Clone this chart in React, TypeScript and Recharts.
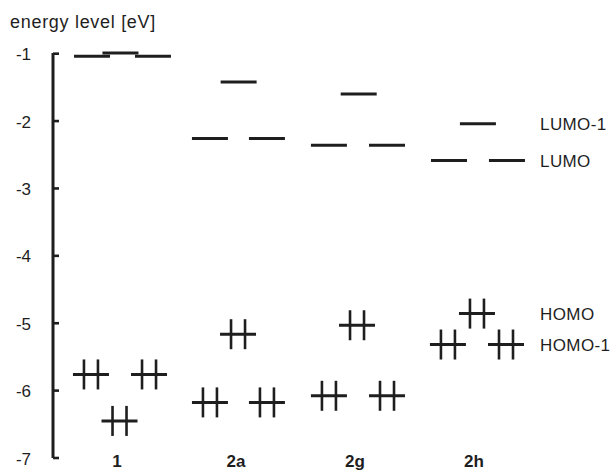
import React from "react";
import { ScatterChart, Scatter, XAxis, YAxis } from "recharts";

// Category (molecule) labels, placed at x = 1..4
const groupLabels = ["1", "2a", "2g", "2h"];
const groupTicks = [1, 2, 3, 4];

// Unoccupied levels (LUMO, LUMO-1 ...)
const unoccupiedX = [0.765, 1.004, 1.277, 1.756, 1.997, 2.235, 2.756, 3.006, 3.244, 3.765, 4.008, 4.252];
const unoccupiedE = [-1.04, -0.99, -1.04, -2.26, -1.42, -2.26, -2.36, -1.6, -2.36, -2.585, -2.04, -2.585];

// Occupied levels (HOMO, HOMO-1 ...), drawn with an electron pair
const occupiedX = [0.756, 0.996, 1.244, 1.756, 1.992, 2.235, 2.756, 2.992, 3.244, 3.756, 4.0, 4.244];
const occupiedE = [-5.76, -6.45, -5.76, -6.175, -5.163, -6.175, -6.077, -5.03, -6.077, -5.316, -4.857, -5.316];

// Orbital annotations on the right
const orbitalLabels = ["LUMO-1", "LUMO", "HOMO", "HOMO-1"];
const orbitalLabelE = [-2.04, -2.585, -4.857, -5.316];
const orbitalLabelX = 4.53;

const yTicks = [-1, -2, -3, -4, -5, -6, -7];

const INK = "#1e1e1e";
const FONT = "'Liberation Sans', Arial, sans-serif";

const unoccupied = unoccupiedX.map((x, i) => ({ x, e: unoccupiedE[i] }));
const occupied = occupiedX.map((x, i) => ({ x, e: occupiedE[i] }));
const annotations = orbitalLabels.map((t, i) => ({ x: orbitalLabelX, e: orbitalLabelE[i], t }));

const LevelShape = (props: any) => {
  const { cx, cy } = props;
  return <line x1={cx - 18} x2={cx + 18} y1={cy} y2={cy} stroke={INK} strokeWidth={3} />;
};

const PairShape = (props: any) => {
  const { cx, cy } = props;
  return (
    <g>
      <line x1={cx - 18} x2={cx + 18} y1={cy} y2={cy} stroke={INK} strokeWidth={3} />
      <line x1={cx - 7} x2={cx - 7} y1={cy - 15} y2={cy + 15} stroke={INK} strokeWidth={2.6} />
      <line x1={cx + 7} x2={cx + 7} y1={cy - 15} y2={cy + 15} stroke={INK} strokeWidth={2.6} />
    </g>
  );
};

const LabelShape = (props: any) => {
  const { cx, cy, payload } = props;
  return (
    <text x={cx} y={cy} dy={1} dominantBaseline="central" textAnchor="start" fontFamily={FONT} fontSize={17} letterSpacing={0.4} fill={INK}>
      {payload.t}
    </text>
  );
};

const YTick = (props: any) => {
  const { x, y, payload } = props;
  return (
    <g>
      <line x1={x} x2={x + 6} y1={y} y2={y} stroke={INK} strokeWidth={2.6} />
      <text x={x - 22} y={y} dy={1} textAnchor="end" dominantBaseline="central" fontFamily={FONT} fontSize={17} fill={INK}>
        {payload.value}
      </text>
    </g>
  );
};

const XTick = (props: any) => {
  const { x, y, payload } = props;
  const idx = groupTicks.indexOf(payload.value);
  return (
    <text x={x - 3} y={y + 9} textAnchor="middle" fontFamily={FONT} fontSize={17} fontWeight="bold" fill={INK}>
      {groupLabels[idx]}
    </text>
  );
};

export default function App() {
  return (
    <div style={{ position: "absolute", left: 0, top: 0, background: "#fff" }}>
      <ScatterChart width={615} height={471} margin={{ top: 53, right: 0, bottom: 0, left: 0 }}>
        <XAxis
          dataKey="x"
          type="number"
          domain={[0.437, 5.16]}
          ticks={groupTicks}
          axisLine={false}
          tickLine={false}
          tickSize={0}
          tickMargin={0}
          height={13}
          tick={<XTick />}
          interval={0}
        />
        <YAxis
          dataKey="e"
          type="number"
          domain={[-7, -1]}
          ticks={yTicks}
          width={53}
          tickSize={0}
          tickMargin={0}
          tickLine={false}
          axisLine={{ stroke: INK, strokeWidth: 3 }}
          tick={<YTick />}
          interval={0}
          label={{
            content: () => (
              <text x={10} y={28} fontFamily={FONT} fontSize={18} letterSpacing={0.7} fill={INK}>
                energy level [eV]
              </text>
            ),
          }}
        />
        <Scatter data={unoccupied} shape={<LevelShape />} isAnimationActive={false} />
        <Scatter data={occupied} shape={<PairShape />} isAnimationActive={false} />
        <Scatter data={annotations} shape={<LabelShape />} isAnimationActive={false} />
      </ScatterChart>
    </div>
  );
}
